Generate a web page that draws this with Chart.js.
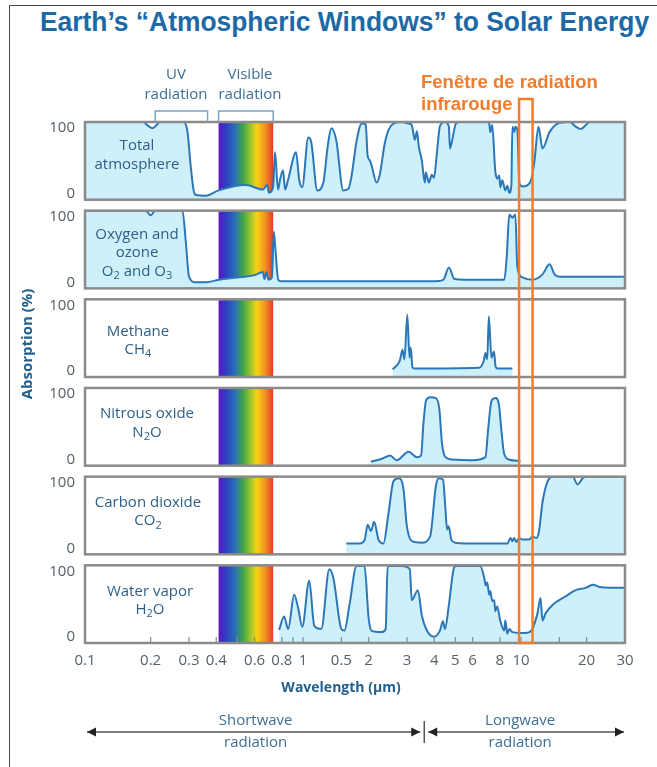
<!DOCTYPE html>
<html>
<head>
<meta charset="utf-8">
<title>Atmospheric windows</title>
<script src="https://cdn.jsdelivr.net/npm/chart.js@4.4.1/dist/chart.umd.min.js"></script>
<style>
  body { margin: 0; background: #fff; }
  #page { position: relative; width: 657px; height: 767px; overflow: hidden; }
  #frame { position: absolute; left: 9px; top: 5px; width: 700px; height: 800px; border: 1.5px solid #4a4a4a; }
  #title { position: absolute; left: 40px; top: 6px; margin: 0; font: bold 28px "Liberation Sans", Arial, sans-serif;
           color: #1d69a6; white-space: nowrap; transform: scaleX(0.943); transform-origin: left top; }
  canvas { position: absolute; left: 0; top: 0; }
</style>
</head>
<body>
<div id="page">
  <div id="frame"></div>
  <h1 id="title">Earth’s “Atmospheric Windows” to Solar Energy</h1>
  <canvas id="chart" width="657" height="767"></canvas>
</div>
<script>
// wavelength axis, µm
const tickValues = [0.1, 0.2, 0.3, 0.4, 0.6, 0.8, 1, 1.5, 2, 3, 4, 5, 6, 8, 10, 20, 30];
const tickLabels = ['0.1', '0.2', '0.3', '0.4', '0.6', '0.8', '1', '0.5', '2', '3', '4', '5', '6', '8', '10', '20', '30'];
const innerTicks = [0.2, 0.3, 0.4, 0.5, 0.6, 0.8, 0.9, 1, 1.5, 2, 3, 4, 5, 6, 8, 10, 15, 20];

const uvBand = [0.21, 0.365];
const visibleBand = [0.41, 0.73];
const irWindow = [9.8, 11.3];

// absorption (%) against wavelength for each panel
const totalWave = [
  0.1, 0.185, 0.193, 0.204, 0.213, 0.22, 0.283, 0.295, 0.305, 0.315,
  0.322, 0.358, 0.41, 0.547, 0.655, 0.684, 0.698, 0.729, 0.744, 0.768,
  0.785, 0.81, 0.828, 0.855, 0.93, 0.96, 0.992, 1.057, 1.091, 1.163,
  1.24, 1.3, 1.349, 1.42, 1.53, 1.616, 1.669, 1.76, 1.86, 1.94,
  1.978, 2.02, 2.06, 2.176, 2.25, 2.37, 2.47, 2.6, 2.84, 3.06,
  3.155, 3.26, 3.33, 3.4, 3.51, 3.62, 3.66, 3.78, 3.9, 3.99,
  4.12, 4.25, 4.48, 4.67, 4.72, 4.83, 5.03, 5.25, 7.0, 7.15,
  7.23, 7.38, 7.62, 7.78, 7.95, 8.04, 8.21, 8.47, 8.66, 8.84,
  9.03, 9.13, 9.32, 9.42, 9.62, 9.83, 10.15, 10.93, 11.17, 11.53,
  12.03, 12.55, 13.52, 15.04, 16.72, 17.82, 18.79, 19.82, 20.68, 30
];
const totalAbs = [
  100, 100, 96, 92, 96, 100, 100, 88, 45, 12,
  6, 5, 12, 19, 13, 19, 9, 16, 61, 13,
  26, 38, 13, 26, 61, 26, 16, 80, 74, 12,
  22, 70, 92, 77, 12, 14, 30, 75, 98, 97,
  57, 51, 45, 22, 32, 72, 90, 98, 100, 98,
  96, 77, 88, 68, 50, 22, 35, 22, 32, 28,
  62, 95, 100, 94, 66, 76, 98, 100, 100, 98,
  87, 96, 37, 27, 31, 16, 25, 12, 18, 9,
  18, 94, 87, 94, 90, 21, 17, 21, 27, 50,
  94, 66, 87, 99, 100, 94, 91, 96, 100, 100
];

const oxyWave = [
  0.1, 0.19, 0.2, 0.21, 0.28, 0.29, 0.3, 0.32, 0.36, 0.41,
  0.5, 0.6, 0.655, 0.665, 0.68, 0.695, 0.72, 0.735, 0.745, 0.77,
  0.8, 3.9, 4.4, 4.67, 4.95, 5.5, 8.38, 8.6, 8.84, 9.13,
  9.42, 9.62, 10.15, 11.29, 12.55, 13.52, 14.26, 15.04, 30
];
const oxyAbs = [
  100, 100, 94, 100, 100, 60, 15, 8, 8, 11,
  14, 17, 21, 12, 21, 11, 14, 73, 55, 11,
  9, 9, 11, 27, 12, 11, 11, 40, 95, 91,
  95, 28, 14, 11, 18, 31, 18, 15, 15
];

const ch4Wave = [2.58, 2.78, 2.86, 2.92, 3.01, 3.08, 3.12, 3.18, 3.25, 6.41,
  6.75, 6.87, 7.0, 7.12, 7.32, 7.52, 7.64, 7.8, 9.13];
const ch4Abs = [10, 21, 35, 23, 80, 25, 38, 12, 11, 12,
  21, 31, 23, 78, 25, 33, 14, 11, 11];

const n2oWave = [2.05, 2.3, 2.51, 2.69, 3.05, 3.33, 3.48, 3.57, 3.67, 3.83,
  4.07, 4.22, 4.34, 4.5, 4.83, 5.97, 6.87, 7.07, 7.33, 7.64,
  7.93, 8.12, 8.36, 8.81, 9.94];
const n2oAbs = [5, 9, 13, 7, 18, 11, 13, 55, 84, 88,
  87, 73, 29, 11, 8, 7, 11, 47, 84, 87,
  78, 47, 16, 8, 6];

const co2Wave = [
  1.58, 1.82, 1.92, 1.98, 2.05, 2.12, 2.22, 2.34, 2.46, 2.6,
  2.74, 2.89, 2.99, 3.16, 3.51, 3.83, 4.07, 4.19, 4.39, 4.5,
  4.58, 4.66, 4.79, 5.0, 5.55, 8.66, 8.95, 9.13, 9.3, 9.52,
  9.8, 10.15, 10.9, 11.29, 11.78, 12.1, 12.55, 13.24, 13.96, 17.26,
  18.2, 19.19, 19.9, 30
];
const co2Abs = [
  14, 14, 19, 38, 30, 42, 19, 14, 50, 94,
  98, 84, 38, 17, 15, 23, 88, 98, 96, 59,
  32, 36, 19, 15, 14, 14, 21, 17, 21, 16,
  21, 19, 19, 23, 21, 30, 67, 94, 100, 100,
  90, 98, 100, 100
];

const h2oWave = [
  0.777, 0.819, 0.855, 0.911, 0.95, 0.992, 1.068, 1.127, 1.213, 1.32,
  1.378, 1.5, 1.549, 1.634, 1.76, 1.915, 2.0, 2.06, 2.295, 2.394,
  2.445, 2.838, 3.09, 3.155, 3.364, 3.51, 3.7, 3.986, 4.248, 4.385,
  4.48, 4.67, 4.93, 5.035, 6.5, 6.78, 6.89, 7.0, 7.15, 7.23,
  7.38, 7.54, 7.62, 7.78, 8.04, 8.38, 8.47, 8.66, 8.84, 9.13,
  9.83, 10.37, 10.93, 11.29, 11.65, 11.9, 12.29, 12.55, 12.96, 13.96,
  16.02, 17.82, 19.82, 21.35, 22.99, 25.57, 30
];
const h2oAbs = [
  17, 34, 18, 62, 45, 21, 80, 22, 18, 95,
  84, 18, 16, 49, 99, 99, 32, 16, 14, 18,
  99, 99, 95, 55, 68, 35, 16, 8, 16, 28,
  18, 49, 97, 99, 99, 84, 74, 78, 62, 67,
  54, 55, 41, 47, 28, 16, 29, 12, 18, 14,
  13, 13, 14, 18, 29, 38, 58, 29, 38, 49,
  60, 68, 71, 75, 72, 71, 71
];

// '_' marks a subscript character
const panelLabels = [
  ['Total', 'atmosphere'],
  ['Oxygen and', 'ozone', 'O_2 and O_3'],
  ['Methane', 'CH_4'],
  ['Nitrous oxide', 'N_2O'],
  ['Carbon dioxide', 'CO_2'],
  ['Water vapor', 'H_2O']
];
// label centre x and first-line offset below the panel top
const labelPlace = [[137, 24], [137, 24], [138, 32], [147, 26], [148, 26], [150, 26]];

const panels = [
  [totalWave, totalAbs], [oxyWave, oxyAbs], [ch4Wave, ch4Abs],
  [n2oWave, n2oAbs], [co2Wave, co2Abs], [h2oWave, h2oAbs]
];

const LINE = '#2c77b7';
const FILL = '#cdf0fb';
const BOX = '#8b8b8b';
const ORANGE = '#f07c2c';
const LABEL = '#2f5f86';
const TICK = '#55606a';
const AXIS_TITLE = '#22608f';

const spectrumStops = [
  [0, '#5b16c8'], [0.14, '#2f3ec2'], [0.3, '#2a6fb5'], [0.45, '#3ea64a'],
  [0.6, '#a9c62a'], [0.7, '#f6d316'], [0.84, '#f3981f'], [1, '#e63a24']
];

const datasets = panels.map(([wave, abs], i) => ({
  data: wave.map((w, k) => ({ x: w, y: abs[k] })),
  yAxisID: 'p' + i,
  borderColor: LINE,
  borderWidth: 2,
  backgroundColor: FILL,
  fill: 'origin',
  pointRadius: 0,
  cubicInterpolationMode: 'monotone'
}));

function panelAxis(weight) {
  return {
    type: 'linear', position: 'left', stack: 'gases', stackWeight: weight,
    min: 0, max: 100,
    ticks: { display: false },
    grid: { display: false, drawTicks: false },
    border: { display: false }
  };
}

const scales = {
  x: {
    type: 'logarithmic', min: 0.1, max: 30,
    afterBuildTicks: axis => { axis.ticks = tickValues.map(v => ({ value: v })); },
    ticks: {
      autoSkip: false, maxRotation: 0, minRotation: 0, padding: 9,
      color: TICK, font: { family: 'Open Sans', size: 15 },
      callback: (value, i) => tickLabels[i]
    },
    grid: { display: false, drawTicks: false },
    border: { display: false }
  }
};
// left axes in a stack are laid out last-added first, so add the bottom panel first
for (let i = panels.length - 1; i >= 0; i--) {
  scales['p' + i] = panelAxis(78);
  if (i > 0) scales['g' + i] = panelAxis(11);
}

function drawRich(ctx, text, cx, cy, size) {
  const parts = [];
  for (let i = 0; i < text.length; i++) {
    if (text[i] === '_') parts.push({ t: text[++i], sub: true });
    else if (parts.length && !parts[parts.length - 1].sub) parts[parts.length - 1].t += text[i];
    else parts.push({ t: text[i], sub: false });
  }
  const fontFor = p => `${p.sub ? Math.round(size * 0.72) : size}px "Open Sans"`;
  let w = 0;
  parts.forEach(p => { ctx.font = fontFor(p); p.w = ctx.measureText(p.t).width; w += p.w; });
  let x = cx - w / 2;
  ctx.textAlign = 'left';
  ctx.textBaseline = 'middle';
  parts.forEach(p => {
    ctx.font = fontFor(p);
    ctx.fillText(p.t, x, cy + (p.sub ? size * 0.3 : 0));
    x += p.w;
  });
}

function arrowHead(ctx, x, y, dir) {
  ctx.beginPath();
  ctx.moveTo(x, y);
  ctx.lineTo(x - dir * 9, y - 4.5);
  ctx.lineTo(x - dir * 9, y + 4.5);
  ctx.closePath();
  ctx.fill();
}

const decorations = {
  id: 'decorations',
  beforeDatasetsDraw(chart) {
    const { ctx } = chart;
    const xs = chart.scales.x;
    const x0 = xs.getPixelForValue(visibleBand[0]);
    const x1 = xs.getPixelForValue(visibleBand[1]);
    ctx.save();
    panels.forEach((_, i) => {
      const s = chart.scales['p' + i];
      const g = ctx.createLinearGradient(x0, 0, x1, 0);
      spectrumStops.forEach(([o, c]) => g.addColorStop(o, c));
      ctx.fillStyle = g;
      ctx.fillRect(x0, s.top, x1 - x0, s.bottom - s.top);
    });
    ctx.restore();
  },
  afterDatasetsDraw(chart) {
    const { ctx } = chart;
    const xs = chart.scales.x;
    const top = chart.scales.p0;
    const bottom = chart.scales['p' + (panels.length - 1)];
    ctx.save();

    // small ticks inside the lowest panel
    ctx.strokeStyle = BOX;
    ctx.lineWidth = 1.2;
    innerTicks.forEach(v => {
      const px = xs.getPixelForValue(v);
      ctx.beginPath();
      ctx.moveTo(px, bottom.bottom);
      ctx.lineTo(px, bottom.bottom - 6);
      ctx.stroke();
    });

    // panel frames
    ctx.lineWidth = 2.5;
    panels.forEach((_, i) => {
      const s = chart.scales['p' + i];
      ctx.strokeRect(xs.left, s.top, xs.right - xs.left, s.bottom - s.top);
    });

    // UV and visible brackets
    ctx.strokeStyle = '#79a4c6';
    ctx.lineWidth = 1.5;
    [uvBand, visibleBand].forEach(([a, b]) => {
      const xa = xs.getPixelForValue(a), xb = xs.getPixelForValue(b);
      ctx.beginPath();
      ctx.moveTo(xa, top.top);
      ctx.lineTo(xa, top.top - 11);
      ctx.lineTo(xb, top.top - 11);
      ctx.lineTo(xb, top.top);
      ctx.stroke();
    });

    // infrared window
    const wl = xs.getPixelForValue(irWindow[0]);
    const wr = xs.getPixelForValue(irWindow[1]);
    ctx.strokeStyle = ORANGE;
    ctx.lineWidth = 2.5;
    ctx.strokeRect(wl, top.top - 23, wr - wl, bottom.bottom - top.top + 23);
    ctx.restore();
  },
  afterDraw(chart) {
    const { ctx } = chart;
    const xs = chart.scales.x;
    const top = chart.scales.p0;
    ctx.save();

    // 0 / 100 labels, set just inside each panel
    ctx.fillStyle = TICK;
    ctx.font = '15px "Open Sans"';
    ctx.textAlign = 'right';
    ctx.textBaseline = 'middle';
    panels.forEach((_, i) => {
      const s = chart.scales['p' + i];
      ctx.fillText('100', xs.left - 10, s.getPixelForValue(100) + 6);
      ctx.fillText('0', xs.left - 10, s.getPixelForValue(0) - 6);
    });

    // gas names
    ctx.fillStyle = LABEL;
    panelLabels.forEach((lines, i) => {
      const s = chart.scales['p' + i];
      const [cx, dy] = labelPlace[i];
      lines.forEach((t, k) => drawRich(ctx, t, cx, s.top + dy + k * 18.5, 15));
    });

    // band names above the first panel
    ctx.fillStyle = '#3f6f94';
    ctx.font = '15px "Open Sans"';
    ctx.textAlign = 'center';
    ctx.fillText('UV', 176, top.top - 47);
    ctx.fillText('radiation', 176, top.top - 27);
    ctx.fillText('Visible', 250, top.top - 47);
    ctx.fillText('radiation', 250, top.top - 27);

    ctx.fillStyle = ORANGE;
    ctx.font = 'bold 18.5px "Liberation Sans", Arial';
    ctx.textAlign = 'left';
    ctx.fillText('Fenêtre de radiation', 421, top.top - 39);
    ctx.fillText('infrarouge', 421, top.top - 17);

    // axis titles
    ctx.fillStyle = AXIS_TITLE;
    ctx.font = 'bold 14px "Open Sans"';
    ctx.textAlign = 'center';
    ctx.fillText('Wavelength (µm)', 341, chart.chartArea.bottom + 45);
    ctx.save();
    ctx.translate(28, 344);
    ctx.rotate(-Math.PI / 2);
    ctx.font = 'bold 15px "Open Sans"';
    ctx.fillText('Absorption (%)', 0, 0);
    ctx.restore();

    // shortwave / longwave arrows
    const ay = chart.chartArea.bottom + 89;
    const split = xs.getPixelForValue(3.6);
    const left = xs.left + 2, right = xs.right - 1;
    ctx.strokeStyle = '#555';
    ctx.fillStyle = '#222';
    ctx.lineWidth = 1.5;
    ctx.beginPath();
    ctx.moveTo(left, ay); ctx.lineTo(split - 4, ay);
    ctx.moveTo(split + 4, ay); ctx.lineTo(right, ay);
    ctx.moveTo(split, ay - 11); ctx.lineTo(split, ay + 11);
    ctx.stroke();
    arrowHead(ctx, left, ay, -1);
    arrowHead(ctx, split - 4, ay, 1);
    arrowHead(ctx, split + 4, ay, -1);
    arrowHead(ctx, right, ay, 1);

    ctx.fillStyle = '#3f6f94';
    ctx.font = '15px "Open Sans"';
    const swx = (left + split) / 2, lwx = (split + right) / 2 - 4;
    ctx.fillText('Shortwave', swx, ay - 11);
    ctx.fillText('radiation', swx, ay + 11);
    ctx.fillText('Longwave', lwx, ay - 11);
    ctx.fillText('radiation', lwx, ay + 11);
    ctx.restore();
  }
};

new Chart(document.getElementById('chart'), {
  type: 'line',
  data: { datasets },
  options: {
    responsive: false,
    animation: false,
    parsing: true,
    layout: { padding: { top: 122, left: 85, right: 32, bottom: 88 } },
    scales,
    plugins: { legend: { display: false }, tooltip: { enabled: false } }
  },
  plugins: [decorations]
});
</script>
</body>
</html>
